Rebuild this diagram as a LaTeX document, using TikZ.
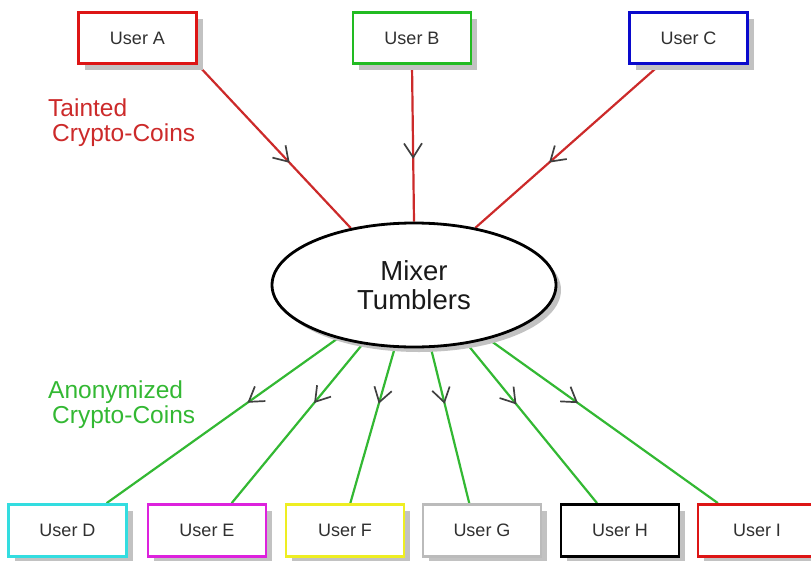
\documentclass[tikz,border=0pt]{standalone}
\usepackage{fontspec}
\setmainfont{Liberation Sans}
\usetikzlibrary{positioning,arrows.meta,shapes.geometric,shadows,decorations.markings,backgrounds}

\definecolor{shadowgray}{HTML}{C2C2C2}
\definecolor{textgray}{HTML}{303030}
\definecolor{arrowgray}{HTML}{404040}
\definecolor{linered}{HTML}{CC2A2A}
\definecolor{linegreen}{HTML}{33B833}
\definecolor{boxred}{HTML}{DD1515}
\definecolor{boxgreen}{HTML}{22BB22}
\definecolor{boxblue}{HTML}{0A0ACC}
\definecolor{boxcyan}{HTML}{33DDE0}
\definecolor{boxmagenta}{HTML}{DD22DD}
\definecolor{boxyellow}{HTML}{EEEE22}
\definecolor{boxgray}{HTML}{BBBBBB}

\begin{document}
\begin{tikzpicture}[
  x=1pt, y=-1pt,
  user/.style={draw=#1, line width=2.8pt, fill=white, minimum width=118pt, minimum height=51pt,
    inner sep=0pt, text=textgray, font=\fontsize{18}{20}\selectfont,
    drop shadow={shadow xshift=6pt, shadow yshift=-6pt, fill=shadowgray, opacity=1}},
  mixer/.style={ellipse, draw, line width=2.8pt, fill=white, minimum width=284pt, minimum height=124pt,
    inner sep=0pt, align=center, text=black!90, font=\fontsize{27.5}{28.5}\selectfont,
    drop shadow={shadow xshift=5pt, shadow yshift=-5pt, fill=shadowgray, opacity=1}},
  coinlabel/.style={align=left, inner sep=0pt, anchor=west, text=#1, font=\fontsize{24.5}{25}\selectfont},
  flow/.style={draw=#1, line width=2.2pt},
  midarrow/.style={postaction={decorate}, decoration={markings,
    mark=at position #1 with {\arrow[arrowgray, line width=1.7pt]{Straight Barb[length=14pt, width=18pt]}}}}
]
  \useasboundingbox (0,0) rectangle (811,560);

  % senders
  \node[user=boxred] (usera) at (137.5,38) {User A};
  \node[user=boxgreen] (userb) at (412,38) {User B};
  \node[user=boxblue] (userc) at (688.5,38) {User C};

  \node[mixer] (mixer) at (414,285) {Mixer\\Tumblers};

  % receivers
  \node[user=boxcyan, minimum height=52pt] (userd) at (67.5,530.5) {User D};
  \node[user=boxmagenta, minimum height=52pt] (usere) at (207,530.5) {User E};
  \node[user=boxyellow, minimum height=52pt] (userf) at (345,530.5) {User F};
  \node[user=boxgray, minimum height=52pt] (userg) at (482,530.5) {User G};
  \node[user=black, minimum height=52pt] (userh) at (620,530.5) {User H};
  \node[user=boxred, minimum height=52pt] (useri) at (757,530.5) {User I};

  \node[coinlabel=linered] (tainted) at (48,123) {Tainted\\\hspace*{4pt}Crypto-Coins};
  \node[coinlabel=linegreen] (anonym) at (48,404.5) {Anonymized\\\hspace*{4pt}Crypto-Coins};

  \begin{scope}[on background layer]
    \path[flow=linered, midarrow=0.6] (usera.south east) -- (mixer.138);
    \path[flow=linered, midarrow=0.6] (userb.south) -- (mixer.north);
    \path[flow=linered, midarrow=0.6] (userc.-137) -- (mixer.43);

    \path[flow=linegreen, midarrow=0.39] (mixer.-145) -- (userd.35);
    \path[flow=linegreen, midarrow=0.37] (mixer.-131) -- (usere.48);
    \path[flow=linegreen, midarrow=0.36] (mixer.-107) -- (userf.79);
    \path[flow=linegreen, midarrow=0.36] (mixer.-75) -- (userg.115);
    \path[flow=linegreen, midarrow=0.38] (mixer.-48) -- (userh.130);
    \path[flow=linegreen, midarrow=0.39] (mixer.-36) -- (useri.145);
  \end{scope}
\end{tikzpicture}
\end{document}
